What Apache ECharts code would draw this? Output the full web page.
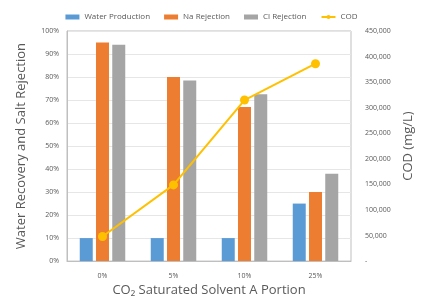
<!DOCTYPE html>
<html><head><meta charset="utf-8">
<script src="https://cdn.jsdelivr.net/npm/echarts@6/dist/echarts.min.js"></script>
<style>html,body{margin:0;padding:0;background:#fff}#c{width:423px;height:302px}</style>
</head><body><div id="c"></div>
<script>
const categories = ['0%', '5%', '10%', '25%'];
const waterProduction = [10, 10, 10, 25];
const naRejection = [95, 80, 67, 30];
const clRejection = [94, 78.5, 72.5, 38];
const cod = [48000, 149000, 315000, 386000];
const leftTicks = [0,10,20,30,40,50,60,70,80,90,100];

const chart = echarts.init(document.getElementById('c'));
const font = 'Open Sans, Liberation Sans, sans-serif';
chart.setOption({
  animation: false,
  textStyle: {fontFamily: font},
  legend: {
    top: 8, left: 'center', itemWidth: 14, itemHeight: 5, itemGap: 14,
    textStyle: {fontSize: 8, color: '#595959', fontFamily: font},
    data: [
      {name: 'Water Production', icon: 'rect'},
      {name: 'Na Rejection', icon: 'rect'},
      {name: 'Cl Rejection', icon: 'rect'},
      {name: 'COD'}
    ]
  },
  grid: {left: 67, right: 67, top: 31, bottom: 37, show: true, borderColor: '#bfbfbf', borderWidth: 1},
  xAxis: {
    type: 'category', data: categories,
    name: 'CO\u2082 Saturated Solvent A Portion', nameLocation: 'middle', nameGap: 22,
    nameTextStyle: {fontSize: 13, color: '#595959'},
    axisLine: {show: true, lineStyle: {color: '#bfbfbf'}}, axisTick: {show: false},
    axisLabel: {fontSize: 7, color: '#595959', margin: 11}
  },
  yAxis: [{
    type: 'value', min: 0, max: 100, interval: 10,
    name: 'Water Recovery and Salt Rejection', nameLocation: 'middle', nameGap: 39,
    nameTextStyle: {fontSize: 13, color: '#595959'},
    axisLine: {show: true, lineStyle: {color: '#bfbfbf'}}, axisTick: {show: false},
    axisLabel: {fontSize: 7, color: '#595959', formatter: v => leftTicks.includes(v) ? v + '%' : ''},
    splitLine: {lineStyle: {color: '#e6e6e6'}}
  }, {
    type: 'value', min: 0, max: 450000, interval: 50000,
    name: 'COD (mg/L)', nameLocation: 'middle', nameGap: 51, nameRotate: 90,
    nameTextStyle: {fontSize: 13, color: '#595959'},
    axisLine: {show: false}, axisTick: {show: false},
    axisLabel: {fontSize: 7, color: '#595959', margin: 14,
      formatter: v => v === 0 ? '-' : v.toLocaleString('en-US')},
    splitLine: {show: false}
  }],
  series: [
    {name: 'Water Production', type: 'bar', data: waterProduction, barWidth: 13, barGap: '25%', barCategoryGap: '37%', itemStyle: {color: '#5b9bd5'}},
    {name: 'Na Rejection', type: 'bar', data: naRejection, barWidth: 13, barGap: '25%', itemStyle: {color: '#ed7d31'}},
    {name: 'Cl Rejection', type: 'bar', data: clRejection, barWidth: 13, barGap: '25%', itemStyle: {color: '#a5a5a5'}},
    {name: 'COD', type: 'line', yAxisIndex: 1, data: cod, symbol: 'circle', symbolSize: 9,
      lineStyle: {color: '#ffc000', width: 2}, itemStyle: {color: '#ffc000'}}
  ]
});
</script></body></html>
